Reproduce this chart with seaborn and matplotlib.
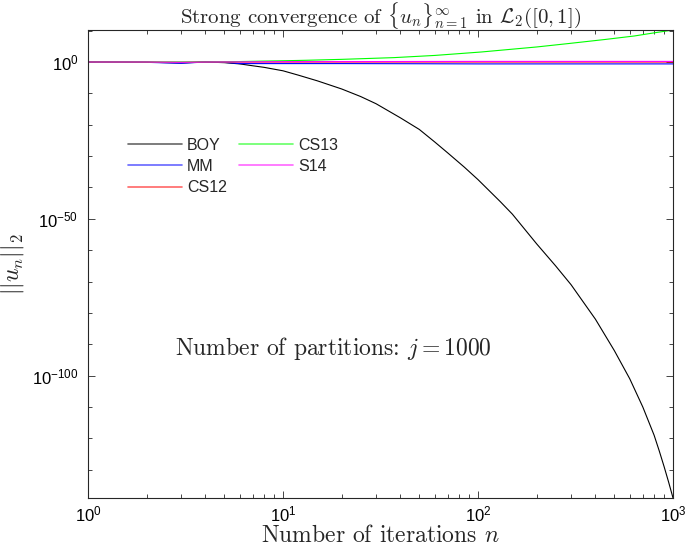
import numpy as np
import pandas as pd
import matplotlib
matplotlib.use("Agg")
import matplotlib.pyplot as plt
import matplotlib.ticker as mticker
import seaborn as sns

# log10 of ||u_n||_2, per method
n_boy = [1, 2, 3, 4, 5, 6, 7, 8, 10, 12, 15, 20, 25, 30, 40, 50, 60, 70, 85, 100, 130,
         150, 200, 250, 300, 400, 500, 600, 700, 800, 850, 900, 950, 1000]
exp_boy = [0, -0.05, -0.3, 0, -0.2, -0.6, -1.2, -1.7, -2.8, -4.2, -6.0, -8.6, -11.0,
           -13.3, -17.8, -21.5, -25.5, -29, -33.5, -37.5, -44.5, -48.5, -58, -65, -71,
           -82, -92, -101, -110, -119, -124, -129, -134, -139]

n_mm = [1, 2, 3, 4, 5, 6, 7, 8, 10, 20, 50, 100, 1000]
exp_mm = [0, -0.1, -0.4, 0, -0.1, -0.5, -0.5, -0.5, -0.5, -0.5, -0.55, -0.6, -0.6]

n_cs12 = [1, 2, 3, 4, 10, 100, 1000]
exp_cs12 = [0, -0.05, -0.1, 0, 0, 0, 0]

n_cs13 = [1, 2, 3, 5, 8, 10, 13, 20, 37, 60, 104, 200, 292, 450, 633, 800, 1000]
exp_cs13 = [0, 0, 0, 0.05, 0.3, 0.4, 0.55, 0.85, 1.4, 2.1, 3.2, 4.8, 5.9, 7.2, 8.3, 9.3, 10.2]

n_s14 = [1, 2, 3, 4, 10, 100, 1000]
exp_s14 = [0, 0, -0.1, 0, 0.1, 0.2, 0.2]

methods = ["BOY", "MM", "CS12", "CS13", "S14"]
colors = {"BOY": "#000000", "MM": "#0000ff", "CS12": "#ff0000",
          "CS13": "#00ff00", "S14": "#ff00ff"}

frames = []
for name, n, e in zip(methods,
                      [n_boy, n_mm, n_cs12, n_cs13, n_s14],
                      [exp_boy, exp_mm, exp_cs12, exp_cs13, exp_s14]):
    frames.append(pd.DataFrame({"n": n, "norm": 10.0 ** np.array(e), "method": name}))
df = pd.concat(frames, ignore_index=True)

sns.set_style("ticks")
plt.rcParams["font.family"] = ["Liberation Sans", "DejaVu Sans"]
plt.rcParams["mathtext.fontset"] = "cm"
plt.rcParams["axes.unicode_minus"] = False
plt.rcParams["xtick.direction"] = "in"
plt.rcParams["ytick.direction"] = "in"
plt.rcParams["xtick.top"] = True
plt.rcParams["ytick.right"] = True
plt.rcParams["axes.edgecolor"] = "#262626"

fig = plt.figure(figsize=(6.85, 5.46), dpi=100)
ax = fig.add_axes([0.1285, 0.088, 0.854, 0.857])

sns.lineplot(data=df, x="n", y="norm", hue="method", hue_order=methods,
             palette=colors, estimator=None, sort=False, linewidth=0.8, ax=ax)

ax.set_xscale("log")
ax.set_yscale("log")
ax.set_xlim(1, 1000)
ax.set_ylim(1e-139, 10 ** 10.2)

ax.yaxis.set_major_locator(mticker.FixedLocator([1e0, 1e-50, 1e-100]))
ax.yaxis.set_minor_locator(mticker.FixedLocator(
    [10.0 ** k for k in range(-130, 11, 10) if k % 50 != 0]))
ax.yaxis.set_minor_formatter(mticker.NullFormatter())
ax.xaxis.set_major_locator(mticker.LogLocator(base=10))
ax.xaxis.set_minor_locator(mticker.LogLocator(base=10, subs=np.arange(2, 10)))
ax.xaxis.set_minor_formatter(mticker.NullFormatter())
ax.tick_params(which="major", length=5, width=0.6, labelsize=12, colors="#262626",
               labelcolor="black", pad=7)
ax.tick_params(axis="x", which="major", pad=5)
ax.tick_params(which="minor", length=3, width=0.6, colors="#262626")
for s in ax.spines.values():
    s.set_linewidth(0.8)

serif = "cmr10"
ax.set_title(r"Strong convergence of $\{u_n\}_{n=1}^{\infty}$ in $\mathcal{L}_2([0,1])$",
             fontfamily=serif, fontsize=15, y=1.0, pad=5)
ax.set_xlabel(r"Number of iterations $n$", fontfamily=serif, fontsize=17, labelpad=0)
ax.set_ylabel(r"$||u_n||_2$", fontfamily=serif, fontsize=17, labelpad=4)
ax.text(0.42, 0.32, r"Number of partitions: $j = 1000$", transform=ax.transAxes,
        fontfamily=serif, fontsize=17, ha="center", va="center")

handles, labels = ax.get_legend_handles_labels()
for h in handles:
    h.set_alpha(0.6)
    h.set_linewidth(1.2)
ax.legend(handles, labels, ncol=2, loc="upper left", bbox_to_anchor=(0.068, 0.77),
          frameon=False, fontsize=11.5, borderpad=0, borderaxespad=0,
          handlelength=3.4, handletextpad=0.3, columnspacing=0.75, labelspacing=0.4)

fig.savefig("out.png", dpi=100)
